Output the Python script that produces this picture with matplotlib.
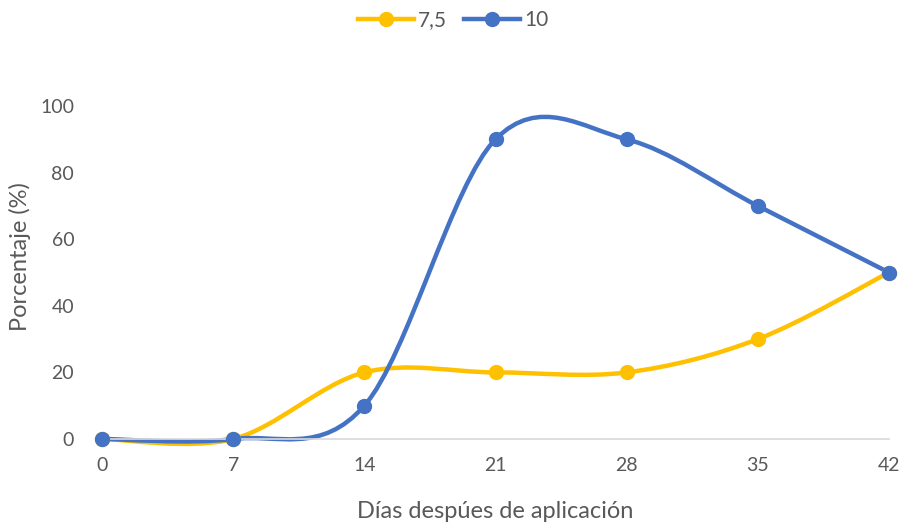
import numpy as np
import matplotlib.pyplot as plt
from matplotlib.path import Path
from matplotlib.patches import PathPatch
from matplotlib.lines import Line2D

plt.rcParams['font.family'] = ['Lato', 'DejaVu Sans']

dias = [0, 7, 14, 21, 28, 35, 42]
serie_75 = [0, 0, 20, 20, 20, 30, 50]
serie_10 = [0, 0, 10, 90, 90, 70, 50]

amarillo = '#FFC000'
azul = '#4472C4'
gris = '#595959'


def curva_suave(x, y):
    # Bezier cubica tipo Excel (Catmull-Rom)
    p = np.column_stack([x, y]).astype(float)
    verts = [p[0]]
    codes = [Path.MOVETO]
    n = len(p)
    for i in range(n - 1):
        p0 = p[i - 1] if i > 0 else p[i]
        p1 = p[i]
        p2 = p[i + 1]
        p3 = p[i + 2] if i + 2 < n else p[i + 1]
        c1 = p1 + (p2 - p0) / 6.0
        c2 = p2 - (p3 - p1) / 6.0
        verts += [c1, c2, p2]
        codes += [Path.CURVE4] * 3
    return Path(verts, codes)


fig = plt.figure(figsize=(9.02, 5.23), dpi=100)
ax = fig.add_axes([102 / 902, 1 - 439 / 523, (889 - 102) / 902, (439 - 106) / 523])

for y, col in [(serie_75, amarillo), (serie_10, azul)]:
    patch = PathPatch(curva_suave(dias, y), facecolor='none', edgecolor=col,
                      lw=3.2, capstyle='round', joinstyle='round', clip_on=False)
    ax.add_patch(patch)
    ax.plot(dias, y, 'o', color=col, ms=10, clip_on=False, zorder=3)

ax.set_xlim(0, 42)
ax.set_ylim(0, 100)
ax.set_xticks(dias)
ax.set_yticks([0, 20, 40, 60, 80, 100])
for s in ['top', 'right', 'left']:
    ax.spines[s].set_visible(False)
ax.spines['bottom'].set_color('#D9D9D9')
ax.spines['bottom'].set_linewidth(1.2)
ax.tick_params(axis='both', length=0, labelsize=14, colors=gris)
ax.tick_params(axis='x', pad=13)
ax.tick_params(axis='y', pad=20)

ax.set_xlabel('Días despúes de aplicación', fontsize=17, color=gris)
ax.xaxis.label.set_va('center')
ax.xaxis.set_label_coords(0.5, (439 - 512) / 333)
ax.set_ylabel('Porcentaje (%)', fontsize=17, color=gris)
ax.yaxis.label.set_va('center')
ax.yaxis.set_label_coords((20 - 102) / 787, (439 - 257) / 333)

handles = [Line2D([0], [0], color=amarillo, lw=3.2, marker='o', ms=10),
           Line2D([0], [0], color=azul, lw=3.2, marker='o', ms=10)]
fig.legend(handles, ['7,5', '10'], loc='center', bbox_to_anchor=(453 / 902, 1 - 20 / 523),
           ncol=2, frameon=False, fontsize=15, labelcolor=gris,
           handlelength=2.7, handletextpad=0.2, columnspacing=0.8)

fig.savefig('out.png', dpi=100)
